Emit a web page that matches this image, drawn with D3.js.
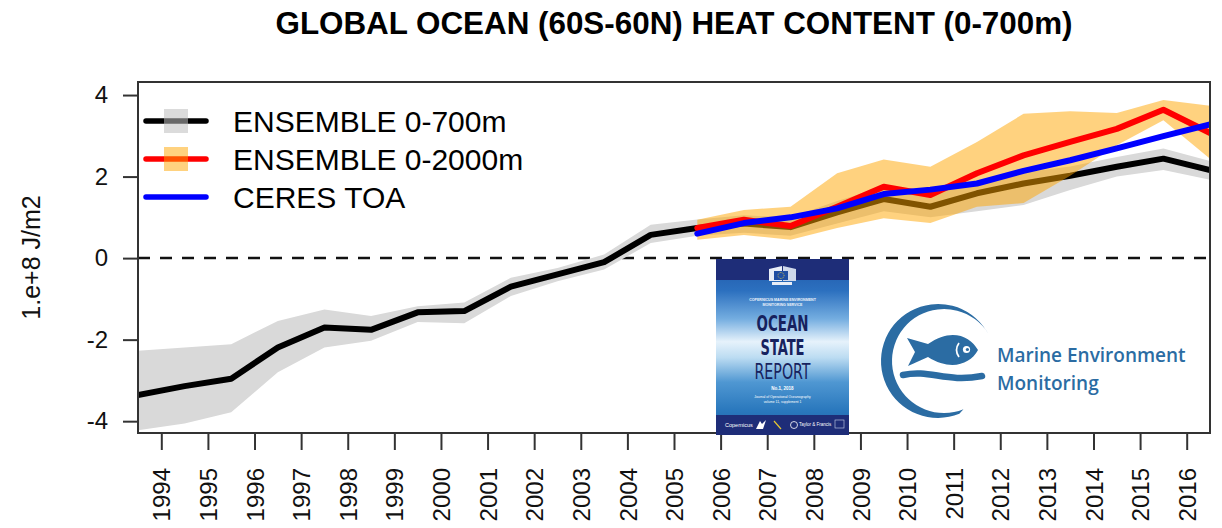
<!DOCTYPE html>
<html>
<head>
<meta charset="utf-8">
<script src="https://cdn.jsdelivr.net/npm/d3@7"></script>
<style>
  html, body { margin: 0; padding: 0; background: #fff; }
  svg { display: block; font-family: "Liberation Sans", Arial, Helvetica, sans-serif; }
</style>
</head>
<body>
<svg id="chart" width="1222" height="528"></svg>
<script>
// Annual ocean heat content anomalies (units of 1e8 J/m2), plotted at mid-year.
const yearsFull = [1993.5, 1994.5, 1995.5, 1996.5, 1997.5, 1998.5, 1999.5, 2000.5,
                   2001.5, 2002.5, 2003.5, 2004.5, 2005.5, 2006.5, 2007.5, 2008.5,
                   2009.5, 2010.5, 2011.5, 2012.5, 2013.5, 2014.5, 2015.5, 2016.5];
const ens700     = [-3.36, -3.14, -2.96, -2.19, -1.70, -1.76, -1.33, -1.30,
                    -0.70, -0.40, -0.10, 0.57, 0.74, 0.85, 0.76, 1.12,
                    1.45, 1.26, 1.59, 1.83, 2.02, 2.24, 2.44, 2.16];
const ens700Low  = [-4.22, -4.06, -3.78, -2.80, -2.19, -2.03, -1.57, -1.60,
                    -0.93, -0.57, -0.28, 0.37, 0.55, 0.62, 0.55, 0.85,
                    1.15, 1.00, 1.15, 1.30, 1.67, 2.00, 2.16, 1.92];
const ens700High = [-2.27, -2.19, -2.11, -1.54, -1.26, -1.42, -1.18, -1.09,
                    -0.48, -0.24, 0.09, 0.82, 0.95, 1.05, 1.00, 1.40,
                    1.75, 1.55, 1.90, 2.10, 2.25, 2.48, 2.69, 2.38];

const yearsRecent = [2005.5, 2006.5, 2007.5, 2008.5, 2009.5, 2010.5,
                     2011.5, 2012.5, 2013.5, 2014.5, 2015.5, 2016.5];
const ens2000     = [0.74, 0.94, 0.79, 1.26, 1.75, 1.55, 2.08, 2.52, 2.85, 3.17, 3.64, 3.07];
const ens2000Low  = [0.45, 0.57, 0.45, 0.74, 0.98, 0.86, 1.26, 1.35, 2.02, 2.77, 3.38, 2.44];
const ens2000High = [0.94, 1.18, 1.26, 2.08, 2.42, 2.24, 2.85, 3.54, 3.60, 3.56, 3.88, 3.74];
const ceresToa    = [0.60, 0.86, 1.00, 1.22, 1.57, 1.68, 1.83, 2.14, 2.40, 2.69, 2.99, 3.28];

const xTickYears = [1994, 1995, 1996, 1997, 1998, 1999, 2000, 2001, 2002, 2003, 2004, 2005,
                    2006, 2007, 2008, 2009, 2010, 2011, 2012, 2013, 2014, 2015, 2016];
const yTickValues = [-4, -2, 0, 2, 4];

const legendLabels = ["ENSEMBLE 0-700m", "ENSEMBLE 0-2000m", "CERES TOA"];
const titleText = "GLOBAL OCEAN (60S-60N) HEAT CONTENT (0-700m)";
const yAxisTitle = "1.e+8 J/m2";

const svg = d3.select("#chart");
const plot = { left: 138, right: 1210, top: 82, bottom: 433 };

const x = d3.scaleLinear().domain([1993.5, 2016.5]).range([plot.left, plot.right]);
const y = d3.scaleLinear().domain([-4.29, 4.32]).range([plot.bottom, plot.top]);

const defs = svg.append("defs");
defs.append("clipPath").attr("id", "plotClip")
  .append("rect")
  .attr("x", plot.left).attr("y", plot.top)
  .attr("width", plot.right - plot.left).attr("height", plot.bottom - plot.top);

const sea = defs.append("linearGradient").attr("id", "seaGrad")
  .attr("x1", 0).attr("y1", 0).attr("x2", 0).attr("y2", 1);
[["0%", "#1f57a8"], ["18%", "#2c70bf"], ["34%", "#74ade0"], ["47%", "#e6f2fb"],
 ["56%", "#bcdcf2"], ["70%", "#4f97d2"], ["86%", "#2a78bd"], ["100%", "#1f5fa6"]]
  .forEach(([o, c]) => sea.append("stop").attr("offset", o).attr("stop-color", c));

// Title
svg.append("text")
  .attr("x", (plot.left + plot.right) / 2).attr("y", 34)
  .attr("text-anchor", "middle")
  .attr("font-size", 32).attr("font-weight", "bold")
  .attr("textLength", 797).attr("lengthAdjust", "spacingAndGlyphs")
  .attr("fill", "#000")
  .text(titleText);

// Zero reference line
svg.append("line")
  .attr("x1", plot.left).attr("x2", plot.right)
  .attr("y1", y(0)).attr("y2", y(0))
  .attr("stroke", "#111").attr("stroke-width", 2.5)
  .attr("stroke-dasharray", "12,10");

const data = svg.append("g").attr("clip-path", "url(#plotClip)");

const full = yearsFull.map((t, i) => ({ t, v: ens700[i], lo: ens700Low[i], hi: ens700High[i] }));
const recent = yearsRecent.map((t, i) => ({ t, v: ens2000[i], lo: ens2000Low[i], hi: ens2000High[i], c: ceresToa[i] }));

const area = d3.area().x(d => x(d.t)).y0(d => y(d.lo)).y1(d => y(d.hi));

data.append("path").datum(full)
  .attr("d", area).attr("fill", "#d9d9d9");

data.append("path").datum(full)
  .attr("d", d3.line().x(d => x(d.t)).y(d => y(d.v)))
  .attr("fill", "none").attr("stroke", "#000").attr("stroke-width", 6)
  .attr("stroke-linejoin", "round").attr("stroke-linecap", "round");

data.append("path").datum(recent)
  .attr("d", area).attr("fill", "rgb(255,165,0)").attr("fill-opacity", 0.5);

data.append("path").datum(recent)
  .attr("d", d3.line().x(d => x(d.t)).y(d => y(d.v)))
  .attr("fill", "none").attr("stroke", "#ff0000").attr("stroke-width", 6)
  .attr("stroke-linejoin", "round").attr("stroke-linecap", "round");

data.append("path").datum(recent)
  .attr("d", d3.line().x(d => x(d.t)).y(d => y(d.c)))
  .attr("fill", "none").attr("stroke", "#0000ff").attr("stroke-width", 6)
  .attr("stroke-linejoin", "round").attr("stroke-linecap", "round");

// Legend
const legend = svg.append("g");
const legendColors = ["#000000", "#ff0000", "#0000ff"];
const legendBoxes = [{ fill: "#bebebe", op: 0.55 }, { fill: "rgb(255,165,0)", op: 0.5 }, null];
legendLabels.forEach((label, i) => {
  const ly = 121 + i * 38;
  legend.append("line")
    .attr("x1", 146).attr("x2", 206).attr("y1", ly).attr("y2", ly)
    .attr("stroke", legendColors[i]).attr("stroke-width", 5.5).attr("stroke-linecap", "round");
  if (legendBoxes[i]) {
    legend.append("rect")
      .attr("x", 164).attr("y", ly - 12).attr("width", 24).attr("height", 24)
      .attr("fill", legendBoxes[i].fill).attr("fill-opacity", legendBoxes[i].op);
  }
  legend.append("text")
    .attr("x", 233).attr("y", ly + 11)
    .attr("font-size", 30).attr("fill", "#000")
    .text(label);
});

// Ocean State Report cover
const cover = svg.append("g").attr("transform", "translate(716,259)");
const cw = 133, ch = 176;
cover.append("rect").attr("width", cw).attr("height", ch).attr("fill", "url(#seaGrad)");
cover.append("rect").attr("width", cw).attr("height", 21).attr("fill", "#1e2d78");
cover.append("rect").attr("y", ch - 20).attr("width", cw).attr("height", 20).attr("fill", "#1e2d78");
// EU emblem
cover.append("path").attr("d", "M53,10 L66,7 L66,22 L53,22 Z").attr("fill", "#e9eef7");
cover.append("path").attr("d", "M67,7 L80,10 L80,22 L67,22 Z").attr("fill", "#cfd8ea");
cover.append("rect").attr("x", 58).attr("y", 12).attr("width", 14).attr("height", 9).attr("fill", "#1f4ea3");
cover.append("circle").attr("cx", 65).attr("cy", 16.5).attr("r", 3)
  .attr("fill", "none").attr("stroke", "#f3d23a").attr("stroke-width", 0.8).attr("stroke-dasharray", "0.8,0.8");
cover.append("rect").attr("x", 56).attr("y", 23).attr("width", 20).attr("height", 3).attr("fill", "#e9eef7");

const coverFont = "'Liberation Sans Narrow', 'DejaVu Sans Condensed', 'Liberation Sans', sans-serif";
cover.append("text").attr("x", cw / 2).attr("y", 42).attr("text-anchor", "middle")
  .attr("font-size", 3.6).attr("font-weight", "bold").attr("fill", "#eef4fb")
  .text("COPERNICUS MARINE ENVIRONMENT");
cover.append("text").attr("x", cw / 2).attr("y", 47).attr("text-anchor", "middle")
  .attr("font-size", 3.6).attr("font-weight", "bold").attr("fill", "#eef4fb")
  .text("MONITORING SERVICE");
cover.append("text").attr("x", cw / 2).attr("y", 72).attr("text-anchor", "middle")
  .attr("font-family", coverFont).attr("font-size", 21).attr("font-weight", "bold")
  .attr("textLength", 52).attr("lengthAdjust", "spacingAndGlyphs")
  .attr("fill", "#17225e").text("OCEAN");
cover.append("text").attr("x", cw / 2).attr("y", 96).attr("text-anchor", "middle")
  .attr("font-family", coverFont).attr("font-size", 21).attr("font-weight", "bold")
  .attr("textLength", 44).attr("lengthAdjust", "spacingAndGlyphs")
  .attr("fill", "#17225e").text("STATE");
cover.append("text").attr("x", cw / 2).attr("y", 120).attr("text-anchor", "middle")
  .attr("font-family", coverFont).attr("font-size", 21)
  .attr("textLength", 56).attr("lengthAdjust", "spacingAndGlyphs")
  .attr("fill", "#17225e").text("REPORT");
cover.append("text").attr("x", cw / 2).attr("y", 131).attr("text-anchor", "middle")
  .attr("font-size", 4.5).attr("font-weight", "bold").attr("fill", "#ffffff").text("No.1, 2018");
cover.append("text").attr("x", cw / 2).attr("y", 139).attr("text-anchor", "middle")
  .attr("font-size", 3.4).attr("fill", "#ffffff").text("Journal of Operational Oceanography");
cover.append("text").attr("x", cw / 2).attr("y", 143.5).attr("text-anchor", "middle")
  .attr("font-size", 3.4).attr("fill", "#ffffff").text("volume 11, supplement 1");
cover.append("text").attr("x", 9).attr("y", 168).attr("font-size", 5.5).attr("fill", "#ffffff").text("Copernicus");
cover.append("path").attr("d", "M40,170 L44,162 L46,165 L50,161 L47,170 Z").attr("fill", "#ffffff");
cover.append("line").attr("x1", 58).attr("y1", 162).attr("x2", 65).attr("y2", 170)
  .attr("stroke", "#e8c832").attr("stroke-width", 1.2);
cover.append("circle").attr("cx", 78).attr("cy", 166).attr("r", 3.5)
  .attr("fill", "none").attr("stroke", "#ffffff").attr("stroke-width", 0.8);
cover.append("text").attr("x", 83).attr("y", 167).attr("font-size", 4.5).attr("fill", "#ffffff").text("Taylor & Francis");
cover.append("rect").attr("x", 119).attr("y", 161).attr("width", 9).attr("height", 8)
  .attr("fill", "none").attr("stroke", "#c9d3ea").attr("stroke-width", 0.6);

// Marine Environment Monitoring emblem
const logoBlue = "#2b6ca3";
const logo = svg.append("g");
const cx0 = 938, cy0 = 361, rOut = 57, rIn = 52, off = 6;
const a0 = -32 * Math.PI / 180, a1 = 68 * Math.PI / 180;
const pOut0 = [cx0 + rOut * Math.cos(a0), cy0 + rOut * Math.sin(a0)];
const pOut1 = [cx0 + rOut * Math.cos(a1), cy0 + rOut * Math.sin(a1)];
const pIn0 = [cx0 + off + rIn * Math.cos(a0), cy0 + rIn * Math.sin(a0)];
const pIn1 = [cx0 + off + rIn * Math.cos(a1), cy0 + rIn * Math.sin(a1)];
logo.append("path")
  .attr("d", `M${pOut0[0]},${pOut0[1]} A${rOut},${rOut} 0 1 0 ${pOut1[0]},${pOut1[1]} ` +
             `L${pIn1[0]},${pIn1[1]} A${rIn},${rIn} 0 1 1 ${pIn0[0]},${pIn0[1]} Z`)
  .attr("fill", logoBlue);
logo.append("path")
  .attr("d", "M978,350 C970,335 950,328 928,344 L907,338 L915,352 L908,366 L928,357 C950,371 970,365 978,350 Z")
  .attr("fill", logoBlue);
logo.append("path").attr("d", "M959,343 Q954,350 959,357")
  .attr("fill", "none").attr("stroke", "#ffffff").attr("stroke-width", 1.7);
logo.append("circle").attr("cx", 966.5).attr("cy", 349.5).attr("r", 3.6).attr("fill", "#ffffff");
logo.append("circle").attr("cx", 967.4).attr("cy", 349.5).attr("r", 1.6).attr("fill", logoBlue);
logo.append("path").attr("d", "M903,375 C930,369 946,383 982,376")
  .attr("fill", "none").attr("stroke", logoBlue).attr("stroke-width", 6.5).attr("stroke-linecap", "round");
logo.append("text").attr("x", 997).attr("y", 362)
  .attr("font-family", "'Open Sans', 'Noto Sans', sans-serif").attr("font-weight", 600)
  .attr("font-size", 19).attr("fill", logoBlue).text("Marine Environment");
logo.append("text").attr("x", 997).attr("y", 390)
  .attr("font-family", "'Open Sans', 'Noto Sans', sans-serif").attr("font-weight", 600)
  .attr("font-size", 19).attr("fill", logoBlue).text("Monitoring");

// Axes
const yAxis = svg.append("g").attr("transform", `translate(${plot.left},0)`)
  .call(d3.axisLeft(y).tickValues(yTickValues).tickSize(15).tickPadding(15).tickFormat(d3.format("d")));
yAxis.select(".domain").remove();
yAxis.selectAll(".tick line").attr("stroke", "#333").attr("stroke-width", 2);
yAxis.selectAll(".tick text").attr("font-size", 24).attr("fill", "#111")
  .attr("font-family", "'Liberation Sans', Arial, sans-serif")
  .text(d => d < 0 ? "-" + Math.abs(d) : d);

const xAxis = svg.append("g").attr("transform", `translate(0,${plot.bottom})`)
  .call(d3.axisBottom(x).tickValues(xTickYears).tickSize(17).tickFormat(d3.format("d")));
xAxis.select(".domain").remove();
xAxis.selectAll(".tick line").attr("stroke", "#333").attr("stroke-width", 2);
xAxis.selectAll(".tick text")
  .attr("font-size", 24).attr("fill", "#111")
  .attr("font-family", "'Liberation Sans', Arial, sans-serif")
  .attr("transform", "rotate(-90)")
  .attr("x", -35).attr("y", 0).attr("dy", "0.36em")
  .attr("text-anchor", "end");

svg.append("text")
  .attr("transform", `translate(40,${(plot.top + plot.bottom) / 2}) rotate(-90)`)
  .attr("text-anchor", "middle").attr("font-size", 25).attr("fill", "#111")
  .text(yAxisTitle);

// Plot frame
svg.append("rect")
  .attr("x", plot.left).attr("y", plot.top)
  .attr("width", plot.right - plot.left).attr("height", plot.bottom - plot.top)
  .attr("fill", "none").attr("stroke", "#333").attr("stroke-width", 2);

// Cover sits over the lower frame edge
svg.node().appendChild(cover.node());
</script>
</body>
</html>
